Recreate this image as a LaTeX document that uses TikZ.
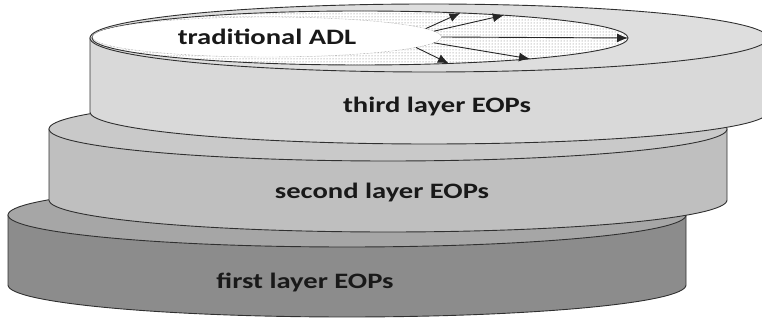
\documentclass[tikz,border=0pt]{standalone}
\usepackage{fontspec}
\newfontfamily\eopfont{Carlito}[FakeStretch=1.3]
\usetikzlibrary{shapes.geometric,arrows.meta,patterns}
\definecolor{rimline}{HTML}{303030}
\definecolor{firstside}{HTML}{8C8C8C}
\definecolor{firsttop}{HTML}{A6A6A6}
\definecolor{secondside}{HTML}{BFBFBF}
\definecolor{secondtop}{HTML}{C9C9C9}
\definecolor{thirdside}{HTML}{D9D9D9}
\definecolor{thirdtop}{HTML}{DEDEDE}

\begin{document}
\begin{tikzpicture}[x=1pt,y=1pt,
    rim/.style={draw=rimline,line width=0.9pt},
    eoplabel/.style={font=\eopfont\bfseries\fontsize{22}{26}\selectfont,text=black!90},
    spread/.style={draw=black!85,line width=0.9pt,-{Latex[length=11pt,width=9pt]}}]
\useasboundingbox (0,0) rectangle (762,320);
\clip (0,0) rectangle (762,320);
% first layer
\draw[rim,fill=firstside] (8,105) -- (8,35) arc[start angle=180,end angle=360,x radius=339,y radius=32] -- (686,105) -- cycle;
\draw[rim,fill=firsttop] (347,105) ellipse[x radius=339,y radius=32];
% second layer
\draw[rim,fill=secondside] (49,191) -- (49,120) arc[start angle=180,end angle=360,x radius=339,y radius=32] -- (727,191) -- cycle;
\draw[rim,fill=secondtop] (388,191) ellipse[x radius=339,y radius=32];
% third layer
\draw[rim,fill=thirdside] (90,282) -- (90,208) arc[start angle=180,end angle=360,x radius=339,y radius=32] -- (768,282) -- cycle;
\draw[rim,fill=thirdtop] (429,282) ellipse[x radius=339,y radius=34];
\node[eoplabel] (first) at (305,38) {first layer EOPs};
\node[eoplabel] (second) at (382,127) {second layer EOPs};
\node[eoplabel] (third) at (437,213) {third layer EOPs};
% traditional ADL and its extension
\node[ellipse,rim,minimum width=536pt,minimum height=54pt,inner sep=0pt,outer sep=0pt,
      preaction={fill=white},pattern=dots,pattern color=black!55] (ring) at (360,282) {};
\node[ellipse,draw=black!55,densely dotted,fill=white,minimum width=349pt,minimum height=40pt,
      inner sep=0pt,outer sep=0pt,eoplabel] (adl) at (267,283) {traditional ADL};
\draw[spread] (adl.3) -- (ring.14);
\draw[spread] (adl.2) -- (ring.9);
\draw[spread] (adl.east) -- (ring.east);
\draw[spread] (adl.358) -- (ring.353);
\draw[spread] (adl.356) -- (ring.344);
\end{tikzpicture}
\end{document}
